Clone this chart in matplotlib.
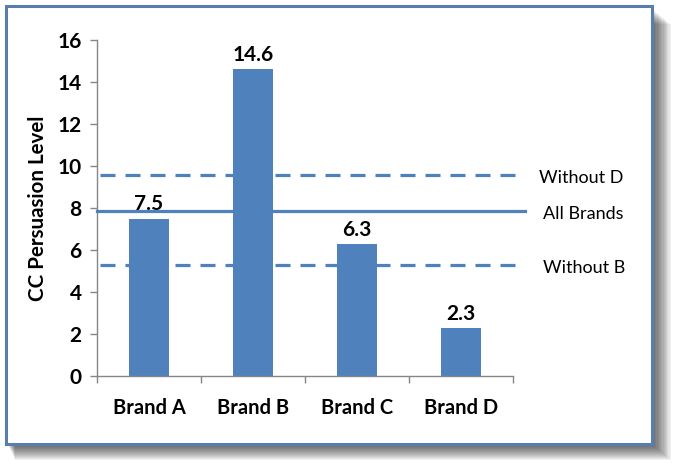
import matplotlib
matplotlib.use("Agg")
import matplotlib.pyplot as plt
from matplotlib.patches import Rectangle
from matplotlib.transforms import blended_transform_factory, offset_copy

plt.rcParams['font.family'] = ['Lato', 'DejaVu Sans']
plt.rcParams['lines.scale_dashes'] = False

brands = ["Brand A", "Brand B", "Brand C", "Brand D"]
values = [7.5, 14.6, 6.3, 2.3]
ref_labels = ["Without D", "All Brands", "Without B"]
ref_values = [9.57, 7.86, 5.29]
ref_styles = ["dashed", "solid", "dashed"]
y_ticks = [0, 2, 4, 6, 8, 10, 12, 14, 16]

BLUE = "#4F81BD"
W, H = 682, 475
fig = plt.figure(figsize=(W / 100, H / 100), dpi=100)
fig.patch.set_facecolor("white")

# shadow (fake blur via layered rectangles)
for i in range(14):
    off = 14 - i
    fig.patches.append(Rectangle(((8 + off * 0.5) / W, (H - 446 - off) / H),
                                 (646 + off * 0.7) / W, (436) / H,
                                 transform=fig.transFigure, facecolor="#000000",
                                 alpha=0.05, edgecolor="none", zorder=0))
fig.patches.append(Rectangle((6 / W, (H - 444) / H), 646 / W, 438 / H,
                             transform=fig.transFigure, facecolor="white",
                             edgecolor="#5A7DB0", linewidth=2.2, zorder=1))

ax = fig.add_axes([97 / W, 1 - 376 / H, 416 / W, 336 / H])
ax.set_zorder(2)
ax.patch.set_alpha(0)

x = list(range(len(brands)))
ax.bar(x, values, width=0.39, color=BLUE, zorder=2)
for xi, v in zip(x, values):
    ax.annotate(f"{v:.1f}", (xi, v), xytext=(0, 3), textcoords="offset points",
                ha="center", va="bottom", fontsize=15, fontweight="bold",
                color="black")

ends = {"dashed": (-0.47, 3.54), "solid": (-0.5, 3.615)}
for lab, v, st in zip(ref_labels, ref_values, ref_styles):
    x0, x1 = ends[st]
    if st == "dashed":
        ax.plot([x0, x1], [v, v], color=BLUE, lw=2.3, dashes=(10.8, 7.2),
                clip_on=False, zorder=3, dash_capstyle="butt")
    else:
        ax.plot([x0, x1], [v, v], color=BLUE, lw=2.3, clip_on=False, zorder=3)

label_x = {"Without D": 539, "All Brands": 543, "Without B": 543}
tr = offset_copy(blended_transform_factory(fig.transFigure, ax.transData),
                 fig=fig, x=0, y=-3, units="dots")
for lab, v in zip(ref_labels, ref_values):
    ax.text(label_x[lab] / W, v, lab, transform=tr,
            ha="left", va="center", fontsize=13, color="black")

ax.set_xlim(-0.5, 3.5)
ax.set_ylim(0, 16)
ax.set_yticks(y_ticks)
ax.set_yticklabels([str(t) for t in y_ticks], fontsize=15, fontweight="bold")
ax.set_xticks([i - 0.5 for i in range(len(brands) + 1)])
ax.set_xticklabels([])
ax.set_xticks(x, minor=True)
ax.set_xticklabels(brands, minor=True, fontsize=14.5, fontweight="bold")
ax.tick_params(axis="x", which="minor", length=0, pad=16)
ax.tick_params(axis="x", which="major", length=5, color="#868686", width=1)
ax.tick_params(axis="y", length=5, color="#868686", width=1, pad=6)
for s in ["top", "right"]:
    ax.spines[s].set_visible(False)
for s in ["left", "bottom"]:
    ax.spines[s].set_color("#868686")
    ax.spines[s].set_linewidth(1)
ax.set_ylabel("CC Persuasion Level", fontsize=14.8, fontweight="bold", labelpad=7)

fig.savefig("out.png", dpi=100)
